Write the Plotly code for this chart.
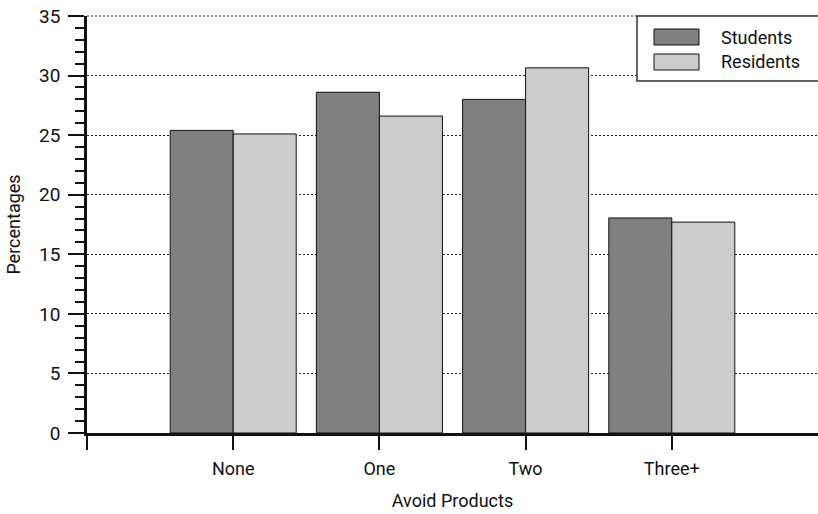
import plotly.graph_objects as go

categories = ["None", "One", "Two", "Three+"]
students = [25.4, 28.6, 28.0, 18.05]
residents = [25.1, 26.6, 30.65, 17.7]
y_ticks = [0, 5, 10, 15, 20, 25, 30, 35]

FONT = "Roboto, Arial, sans-serif"
xpos = list(range(1, len(categories) + 1))

fig = go.Figure()
fig.add_bar(x=xpos, y=students, name="Students", marker=dict(color="#808080", line=dict(color="#111", width=1)), showlegend=False)
fig.add_bar(x=xpos, y=residents, name="Residents", marker=dict(color="#cccccc", line=dict(color="#111", width=1)), showlegend=False)

fig.update_layout(
    width=818, height=514,
    margin=dict(l=87, r=0, t=16, b=81),
    paper_bgcolor="white", plot_bgcolor="white",
    barmode="group", bargap=0.138, bargroupgap=0,
    font=dict(family=FONT, size=18, color="#111"),
)
fig.update_xaxes(
    range=[0, 5], tickvals=[0] + xpos, ticktext=[""] + categories,
    showline=True, linecolor="#111", linewidth=2.5,
    ticks="outside", ticklen=14, tickwidth=1.5, tickcolor="#111",
    showgrid=False, zeroline=False, automargin=False, ticklabelstandoff=4,
    title=dict(text="Avoid Products", font=dict(size=18), standoff=17),
    tickfont=dict(size=18),
)
fig.update_yaxes(
    range=[0, 35], tickvals=y_ticks,
    showline=True, linecolor="#111", linewidth=2.5,
    ticks="outside", ticklen=16, tickwidth=1.5, tickcolor="#111",
    minor=dict(dtick=1, ticks="outside", ticklen=9, tickwidth=1.5, tickcolor="#111", showgrid=False),
    showgrid=True, gridcolor="#222", gridwidth=1, griddash="2px,2px",
    zeroline=False, automargin=False, ticklabelstandoff=4,
    title=dict(text="Percentages", font=dict(size=18), standoff=14),
    tickfont=dict(size=19),
)

# top grid line (plotly hides the one on the plot edge)
fig.add_shape(type="line", xref="paper", yref="paper", x0=0, x1=1, y0=1, y1=1,
              line=dict(color="#222", width=1, dash="2px,2px"), layer="below")

# legend box
PH = 417
fig.add_shape(type="rect", xref="paper", yref="paper", x0=(637-87)/731, x1=1.02, y0=(433-81)/PH, y1=1,
              line=dict(color="#333", width=1.5), fillcolor="white", layer="above")
for i, (name, col) in enumerate([("Students", "#808080"), ("Residents", "#cccccc")]):
    yc = 37 + i * 25
    fig.add_shape(type="rect", xref="paper", yref="paper",
                  x0=(654-87)/731, x1=(699-87)/731,
                  y0=(433-(yc+8))/PH, y1=(433-(yc-8))/PH,
                  line=dict(color="#111", width=1), fillcolor=col, layer="above")
    fig.add_annotation(xref="paper", yref="paper", x=(719-87)/731, y=(433-yc)/PH,
                       text=name, showarrow=False, xanchor="left", yanchor="middle",
                       font=dict(size=18, family=FONT))

fig.write_html("out.html", config={"displayModeBar": False},
               post_script="document.body.style.margin='0';document.body.style.overflow='hidden';")
